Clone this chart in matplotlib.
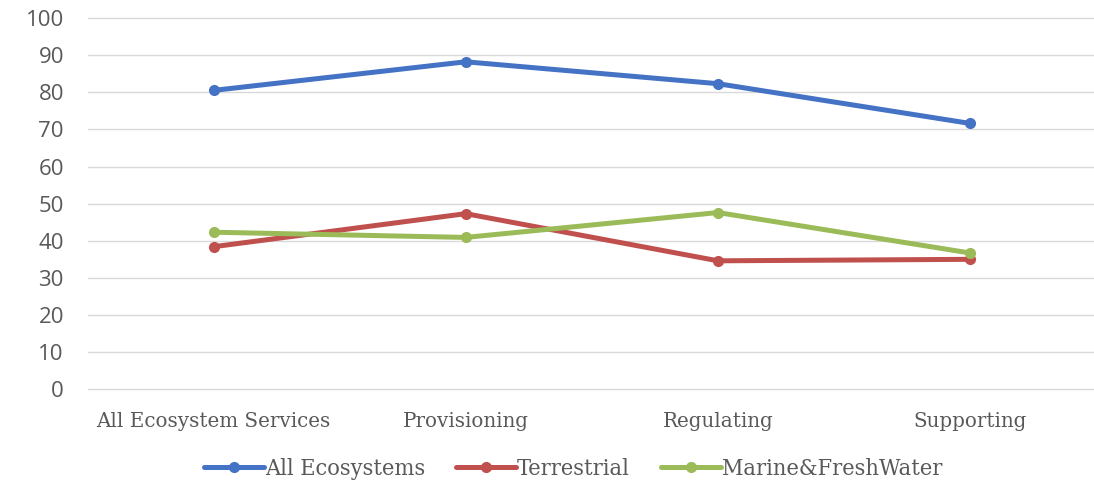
import matplotlib.pyplot as plt

categories = ['All Ecosystem Services', 'Provisioning', 'Regulating', 'Supporting']
all_ecosystems = [80.5, 88.2, 82.3, 71.6]
terrestrial = [38.4, 47.3, 34.6, 35.0]
marine_fresh = [42.3, 40.9, 47.6, 36.7]
y_ticks = list(range(0, 101, 10))

series = [
    ('All Ecosystems', all_ecosystems, '#4472c4'),
    ('Terrestrial', terrestrial, '#c0504d'),
    ('Marine&FreshWater', marine_fresh, '#9bbb59'),
]

fig = plt.figure(figsize=(10.94, 4.86), dpi=100)
ax = fig.add_axes([0.080, 0.199, 0.922, 0.764])

x = list(range(len(categories)))
for name, vals, col in series:
    ax.plot(x, vals, color=col, linewidth=3.6, marker='o', markersize=7,
            label=name, solid_capstyle='round')

ax.set_xlim(-0.5, len(categories) - 0.5)
ax.set_ylim(0, 100)
ax.set_yticks(y_ticks)
ax.set_xticks(x)
ax.set_xticklabels(categories, fontfamily='DejaVu Serif', fontsize=14.3, color='#595959')
for lbl in ax.get_yticklabels():
    lbl.set_fontfamily('Open Sans')
    lbl.set_fontsize(16)
    lbl.set_color('#595959')
ax.tick_params(axis='both', length=0)
ax.tick_params(axis='x', pad=16)
ax.tick_params(axis='y', pad=17)
ax.grid(axis='y', color='#d9d9d9', linewidth=1)
for gl in ax.get_ygridlines():
    gl.set_clip_on(False)
ax.set_axisbelow(True)
for s in ax.spines.values():
    s.set_visible(False)

leg = fig.legend(loc='center', bbox_to_anchor=(0.524, 0.035), ncol=3, frameon=False,
                 handlelength=2.55, columnspacing=1.35, handletextpad=0.05,
                 prop={'family': 'DejaVu Serif', 'stretch': 'condensed', 'size': 16.8})
for t in leg.get_texts():
    t.set_color('#595959')

fig.savefig('out.png', dpi=100)
